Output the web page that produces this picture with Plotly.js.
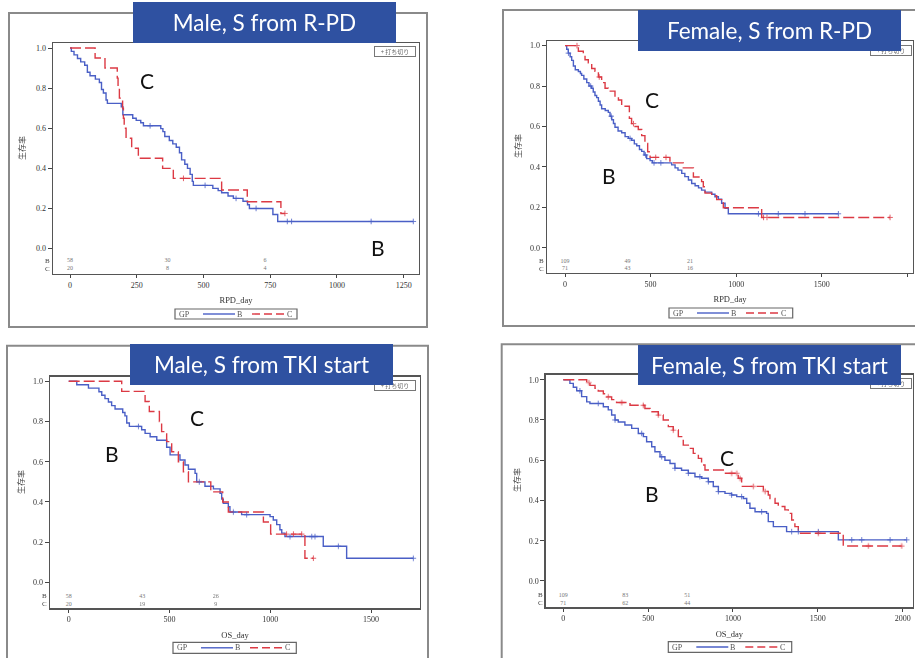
<!DOCTYPE html>
<html>
<head>
<meta charset="utf-8">
<script src="https://cdn.plot.ly/plotly-3.0.1.min.js"></script>
<style>html,body{margin:0;padding:0;background:#fff}#chart{width:915px;height:658px}</style>
</head>
<body>
<div id="chart"></div>
<script>
// ---------------- DATA ----------------
const riskTimes = [0, 365, 730];
const groups = ['B', 'C'];
const legendTitle = 'GP';
const panelTitles = ['Male, S from R-PD', 'Female, S from R-PD', 'Male, S from TKI start', 'Female, S from TKI start'];
const xTitles = ['RPD_day', 'RPD_day', 'OS_day', 'OS_day'];
const yTitle = '生存率';
const censorLabel = '+ 打ち切り';
const yTickVals = [0, 0.2, 0.4, 0.6, 0.8, 1.0];
const yTickText = ['0.0', '0.2', '0.4', '0.6', '0.8', '1.0'];
const xTicks1 = [0, 250, 500, 750, 1000, 1250];
const xTicks2 = [0, 500, 1000, 1500, 2000];
const xTicks3 = [0, 500, 1000, 1500];
const xTicks4 = [0, 500, 1000, 1500, 2000];

// Panel 1: Male, R-PD
const p1B_t = [0, 5, 15, 28, 40, 55, 65, 75, 95, 110, 118, 125, 135, 140, 192, 198, 235, 248, 265, 275, 340, 348, 355, 372, 385, 398, 410, 418, 430, 440, 450, 458, 462, 535, 555, 568, 592, 612, 648, 665, 672, 760, 778, 1286];
const p1B_s = [1.0, 0.983, 0.966, 0.948, 0.931, 0.914, 0.879, 0.862, 0.845, 0.828, 0.793, 0.776, 0.741, 0.724, 0.707, 0.667, 0.650, 0.639, 0.627, 0.612, 0.598, 0.583, 0.559, 0.539, 0.522, 0.505, 0.478, 0.442, 0.420, 0.400, 0.370, 0.335, 0.315, 0.300, 0.289, 0.278, 0.262, 0.250, 0.236, 0.218, 0.200, 0.170, 0.135, 0.135];
const p1B_cens = [300, 506, 622, 697, 814, 830, 1128, 1286];
const p1C_t = [0, 94, 131, 177, 180, 185, 197, 200, 203, 210, 231, 256, 347, 387, 568, 664, 790, 805];
const p1C_s = [1.0, 0.95, 0.90, 0.85, 0.80, 0.75, 0.70, 0.65, 0.60, 0.55, 0.50, 0.45, 0.40, 0.35, 0.292, 0.233, 0.175, 0.175];
const p1C_cens = [425, 805];
const p1RiskB = [58, 30, 6];
const p1RiskC = [20, 8, 4];

// Panel 2: Female, R-PD
const p2B_t = [0, 10, 19, 30, 39, 49, 60, 78, 90, 97, 110, 127, 140, 156, 165, 175, 185, 195, 205, 214, 235, 253, 263, 273, 283, 292, 310, 331, 351, 370, 389, 405, 419, 435, 448, 462, 477, 497, 510, 623, 643, 660, 682, 700, 721, 740, 760, 780, 798, 818, 857, 876, 896, 915, 935, 954, 1597];
const p2B_s = [1.0, 0.982, 0.963, 0.945, 0.927, 0.899, 0.881, 0.872, 0.862, 0.853, 0.835, 0.817, 0.800, 0.789, 0.771, 0.753, 0.743, 0.725, 0.706, 0.688, 0.679, 0.670, 0.651, 0.633, 0.615, 0.596, 0.578, 0.569, 0.550, 0.541, 0.532, 0.514, 0.505, 0.486, 0.477, 0.459, 0.441, 0.431, 0.420, 0.410, 0.395, 0.384, 0.368, 0.352, 0.335, 0.318, 0.307, 0.296, 0.285, 0.275, 0.265, 0.252, 0.240, 0.220, 0.195, 0.168, 0.168];
const p2B_cens = [20, 150, 270, 380, 470, 520, 560, 1130, 1246, 1402, 1597];
const p2C_t = [0, 78, 107, 117, 136, 156, 175, 195, 214, 234, 253, 292, 312, 331, 376, 389, 409, 428, 448, 467, 483, 497, 613, 691, 750, 798, 808, 818, 857, 886, 915, 925, 1149, 1899];
const p2C_s = [1.0, 0.972, 0.958, 0.930, 0.915, 0.887, 0.873, 0.845, 0.817, 0.789, 0.775, 0.746, 0.731, 0.700, 0.640, 0.614, 0.600, 0.585, 0.555, 0.516, 0.475, 0.447, 0.420, 0.395, 0.350, 0.327, 0.302, 0.270, 0.258, 0.238, 0.225, 0.198, 0.150, 0.150];
const p2C_cens = [70, 200, 400, 530, 590, 1160, 1180, 1899];
const p2RiskB = [109, 49, 21];
const p2RiskC = [71, 43, 16];

// Panel 3: Male, TKI start
const p3B_t = [0, 40, 98, 150, 164, 180, 197, 213, 230, 268, 279, 288, 301, 362, 379, 404, 437, 486, 503, 552, 577, 594, 627, 635, 676, 718, 751, 759, 767, 792, 800, 858, 999, 1015, 1032, 1048, 1057, 1073, 1263, 1379, 1710];
const p3B_s = [1.0, 0.983, 0.966, 0.948, 0.931, 0.914, 0.897, 0.879, 0.862, 0.845, 0.828, 0.793, 0.776, 0.759, 0.741, 0.724, 0.707, 0.672, 0.634, 0.609, 0.584, 0.563, 0.542, 0.500, 0.478, 0.465, 0.443, 0.414, 0.393, 0.376, 0.350, 0.337, 0.327, 0.310, 0.287, 0.262, 0.245, 0.228, 0.180, 0.120, 0.120];
const p3B_cens = [346, 648, 817, 883, 1098, 1206, 1222, 1338, 1710];
const p3C_t = [0, 263, 379, 400, 450, 461, 486, 511, 544, 569, 594, 705, 764, 792, 966, 1002, 1172, 1214];
const p3C_s = [1.0, 0.95, 0.90, 0.85, 0.80, 0.75, 0.70, 0.65, 0.60, 0.55, 0.50, 0.45, 0.40, 0.35, 0.30, 0.24, 0.12, 0.12];
const p3C_cens = [1081, 1115, 1156, 1214];
const p3RiskB = [58, 43, 26];
const p3RiskC = [20, 19, 9];

// Panel 4: Female, TKI start
const p4B_t = [0, 39, 59, 79, 108, 138, 157, 236, 265, 285, 305, 324, 363, 403, 442, 472, 491, 521, 540, 570, 599, 629, 658, 697, 737, 776, 815, 855, 884, 914, 953, 992, 1022, 1061, 1081, 1100, 1130, 1198, 1208, 1238, 1316, 1621, 2024];
const p4B_s = [1.0, 0.982, 0.963, 0.945, 0.916, 0.890, 0.882, 0.866, 0.850, 0.825, 0.800, 0.790, 0.775, 0.758, 0.733, 0.717, 0.692, 0.667, 0.642, 0.617, 0.600, 0.584, 0.560, 0.550, 0.535, 0.518, 0.510, 0.493, 0.469, 0.444, 0.435, 0.427, 0.419, 0.410, 0.386, 0.361, 0.344, 0.336, 0.295, 0.270, 0.245, 0.204, 0.204];
const p4B_cens = [98, 206, 305, 462, 580, 658, 737, 805, 855, 914, 992, 1051, 1169, 1346, 1385, 1503, 1700, 1759, 1926, 2024];
const p4C_t = [0, 138, 157, 187, 206, 236, 255, 285, 314, 393, 481, 511, 560, 589, 619, 648, 678, 707, 737, 766, 796, 815, 835, 943, 1031, 1051, 1179, 1208, 1218, 1248, 1267, 1306, 1326, 1346, 1365, 1385, 1650, 1994];
const p4C_s = [1.0, 0.986, 0.972, 0.958, 0.944, 0.930, 0.915, 0.901, 0.887, 0.873, 0.857, 0.841, 0.825, 0.800, 0.767, 0.750, 0.717, 0.675, 0.659, 0.634, 0.609, 0.576, 0.551, 0.535, 0.510, 0.470, 0.445, 0.427, 0.410, 0.386, 0.370, 0.353, 0.336, 0.303, 0.270, 0.237, 0.174, 0.174];
const p4C_cens = [150, 265, 344, 471, 560, 648, 992, 1022, 1041, 1120, 1189, 1503, 1798, 1994];
const p4RiskB = [109, 83, 51];
const p4RiskC = [71, 62, 44];

// ---------------- LAYOUT / STYLE ----------------
const W = 915, H = 658;
const px = v => v / W;
const py = v => 1 - v / H;
const BLUE = '#4a5fc6', RED = '#dc3a44';
const SERIF = 'Liberation Serif, Times New Roman, serif';
const DASH = '11px,4px';

const panels = [
  {bt: p1B_t, bs: p1B_s, bc: p1B_cens, ct: p1C_t, cs: p1C_s, cc: p1C_cens, rb: p1RiskB, rc: p1RiskC, ticks: xTicks1,
   frame: [53, 43, 419, 274], xr: [-63.7, 1307.3], yr: [-0.127, 1.025], riskY: [-0.062, -0.102],
   outer: [9, 13, 427, 327], title: [133, 2, 396, 43], leg: [175, 309, 297, 319], cens: [395, 51.5], lblC: [147, 80], lblB: [378, 248], yt: [22, 148]},
  {bt: p2B_t, bs: p2B_s, bc: p2B_cens, ct: p2C_t, cs: p2C_s, cc: p2C_cens, rb: p2RiskB, rc: p2RiskC, ticks: xTicks2,
   frame: [547, 41, 913, 273], xr: [-105.2, 2033], yr: [-0.125, 1.023], riskY: [-0.066, -0.105],
   outer: [503, 10, 925, 326], title: [638, 10, 901, 51], leg: [669, 308, 792.7, 318], cens: [891, 50.3], lblC: [652, 100], lblB: [609, 175], yt: [517, 146]},
  {bt: p3B_t, bs: p3B_s, bc: p3B_cens, ct: p3C_t, cs: p3C_s, cc: p3C_cens, rb: p3RiskB, rc: p3RiskC, ticks: xTicks3,
   frame: [50, 376.7, 420, 608.3], xr: [-92.8, 1743], yr: [-0.129, 1.023], riskY: [-0.068, -0.109],
   outer: [7, 345.7, 428, 670], title: [130, 344, 393, 385], leg: [173, 642.3, 296.3, 653.3], cens: [395, 385], lblC: [197, 418], lblB: [112, 453], yt: [20, 482]},
  {bt: p4B_t, bs: p4B_s, bc: p4B_cens, ct: p4C_t, cs: p4C_s, cc: p4C_cens, rb: p4RiskB, rc: p4RiskC, ticks: xTicks4,
   frame: [545.7, 374.7, 913, 607.3], xr: [-103.7, 2061], yr: [-0.131, 1.025], riskY: [-0.070, -0.111],
   outer: [501.7, 344.3, 925, 670], title: [638, 344.7, 901, 384.7], leg: [668.3, 641.7, 791.7, 652.3], cens: [890.5, 383.5], lblC: [727, 457], lblB: [652, 493], yt: [516, 480]}
];

function survAt(t, times, surv) {
  let s = 1;
  for (let i = 0; i < times.length; i++) { if (times[i] <= t) s = surv[i]; }
  return s;
}

const data = [];
const layout = {
  width: W, height: H, margin: {l: 0, r: 0, t: 0, b: 0},
  paper_bgcolor: '#fff', plot_bgcolor: '#fff', showlegend: false,
  shapes: [], annotations: []
};
const topAnn = [], titleAnn = [];

panels.forEach((p, i) => {
  const n = i + 1;
  const xa = n === 1 ? 'x' : 'x' + n;
  const ya = n === 1 ? 'y' : 'y' + n;
  // curves
  data.push({x: p.bt, y: p.bs, xaxis: xa, yaxis: ya, mode: 'lines', line: {shape: 'hv', color: BLUE, width: 1.4},
    name: groups[0], hoverinfo: 'skip'});
  data.push({x: p.ct, y: p.cs, xaxis: xa, yaxis: ya, mode: 'lines', line: {shape: 'hv', color: RED, width: 1.4, dash: DASH},
    name: groups[1], hoverinfo: 'skip'});
  // censor marks
  data.push({x: p.bc, y: p.bc.map(t => survAt(t, p.bt, p.bs)), xaxis: xa, yaxis: ya, mode: 'markers', name: groups[0] + ' censored',
    marker: {symbol: 'cross-thin', size: 4, line: {color: BLUE, width: 1}}, opacity: 0.8, hoverinfo: 'skip'});
  data.push({x: p.cc, y: p.cc.map(t => survAt(t, p.ct, p.cs)), xaxis: xa, yaxis: ya, mode: 'markers', name: groups[1] + ' censored',
    marker: {symbol: 'cross-thin', size: 4, line: {color: RED, width: 1}}, opacity: 0.8, hoverinfo: 'skip'});
  // at-risk numbers
  [p.rb, p.rc].forEach((arr, k) => {
    data.push({x: riskTimes, y: riskTimes.map(() => p.riskY[k]), text: arr.map(String), xaxis: xa, yaxis: ya, mode: 'text',
      textfont: {family: SERIF, size: 6, color: '#777'}, textposition: 'middle center', name: groups[k] + ' at risk', hoverinfo: 'skip'});
  });

  const [fx0, fy0, fx1, fy1] = p.frame;
  layout['xaxis' + (n === 1 ? '' : n)] = {
    domain: [px(fx0), px(fx1)], anchor: ya, range: p.xr, tickvals: p.ticks,
    ticks: 'outside', ticklen: 3, tickcolor: '#444', showline: true, mirror: true, linecolor: '#555', linewidth: 1.3,
    showgrid: false, zeroline: false, tickfont: {family: SERIF, size: 8, color: '#333'},
    title: {text: xTitles[i], font: {family: SERIF, size: 8.5, color: '#333'}, standoff: 8}
  };
  layout['yaxis' + (n === 1 ? '' : n)] = {
    domain: [py(fy1), py(fy0)], anchor: xa, range: p.yr, tickvals: yTickVals, ticktext: yTickText,
    ticks: 'outside', ticklen: 4, tickcolor: '#444', showline: true, mirror: true, linecolor: '#555', linewidth: 1.3,
    showgrid: false, zeroline: false, tickfont: {family: SERIF, size: 8, color: '#333'}
  };
  // y title
  layout.annotations.push({text: yTitle, xref: 'paper', yref: 'paper', x: px(p.yt[0]), y: py(p.yt[1]), textangle: -90,
    showarrow: false, xanchor: 'center', yanchor: 'middle', font: {family: 'Noto Sans CJK JP', size: 8, color: '#444'}});
  // at-risk row labels
  groups.forEach((g, k) => {
    layout.annotations.push({text: g, xref: 'paper', yref: ya, x: px(fx0 - 2), y: p.riskY[k], xanchor: 'right', yanchor: 'middle',
      showarrow: false, borderpad: 0, font: {family: SERIF, size: 7, color: '#444'}});
  });
  // outer gray frame
  const [ox0, oy0, ox1, oy1] = p.outer;
  layout.shapes.push({type: 'rect', xref: 'paper', yref: 'paper', x0: px(ox0), x1: px(ox1), y0: py(oy1), y1: py(oy0),
    line: {color: '#8a8a8a', width: 2}, fillcolor: 'rgba(0,0,0,0)', layer: 'below'});
  // legend box (GP)
  const [lx0, ly0, lx1, ly1] = p.leg;
  const lyc = (ly0 + ly1) / 2;
  layout.shapes.push({type: 'rect', xref: 'paper', yref: 'paper', x0: px(lx0), x1: px(lx1), y0: py(ly1), y1: py(ly0),
    line: {color: '#666', width: 1.2}, fillcolor: '#fff', layer: 'above'});
  layout.shapes.push({type: 'line', xref: 'paper', yref: 'paper', x0: px(lx0 + 28), x1: px(lx0 + 60), y0: py(lyc), y1: py(lyc),
    line: {color: BLUE, width: 1.4}, layer: 'above'});
  layout.shapes.push({type: 'line', xref: 'paper', yref: 'paper', x0: px(lx0 + 77), x1: px(lx0 + 109), y0: py(lyc), y1: py(lyc),
    line: {color: RED, width: 1.4, dash: '8px,4px'}, layer: 'above'});
  [[legendTitle, 9], [groups[0], 64.5], [groups[1], 114.5]].forEach(([t, dx]) => {
    topAnn.push({text: t, xref: 'paper', yref: 'paper', x: px(lx0 + dx), y: py(lyc), xanchor: 'center', yanchor: 'middle',
      showarrow: false, borderpad: 0, font: {family: SERIF, size: 8, color: '#555'}});
  });
  // censor legend box
  topAnn.push({text: censorLabel, xref: 'paper', yref: 'paper', x: px(p.cens[0]), y: py(p.cens[1]), xanchor: 'center', yanchor: 'middle',
    showarrow: false, font: {family: 'Noto Sans CJK JP', size: 6, color: '#666'}, bordercolor: '#777', borderwidth: 1, borderpad: 1,
    bgcolor: '#fff', width: 38, height: 7});
  // group labels
  layout.annotations.push({text: 'C', xref: 'paper', yref: 'paper', x: px(p.lblC[0]), y: py(p.lblC[1]), xanchor: 'center', yanchor: 'middle',
    showarrow: false, font: {family: 'Lato', size: 21, color: '#111'}});
  layout.annotations.push({text: 'B', xref: 'paper', yref: 'paper', x: px(p.lblB[0]), y: py(p.lblB[1]), xanchor: 'center', yanchor: 'middle',
    showarrow: false, font: {family: 'Lato', size: 21, color: '#111'}});
  // blue title box
  const [tx0, ty0, tx1, ty1] = p.title;
  titleAnn.push({text: panelTitles[i], xref: 'paper', yref: 'paper', x: px((tx0 + tx1) / 2), y: py((ty0 + ty1) / 2),
    xanchor: 'center', yanchor: 'middle', showarrow: false, bgcolor: '#2f51a1', borderpad: 0, borderwidth: 0,
    width: tx1 - tx0, height: ty1 - ty0, font: {family: 'Lato', size: 22.5, color: '#fff'}});
});
layout.annotations = layout.annotations.concat(topAnn, titleAnn);

Plotly.newPlot('chart', data, layout, {staticPlot: true, displayModeBar: false});
</script>
</body>
</html>
